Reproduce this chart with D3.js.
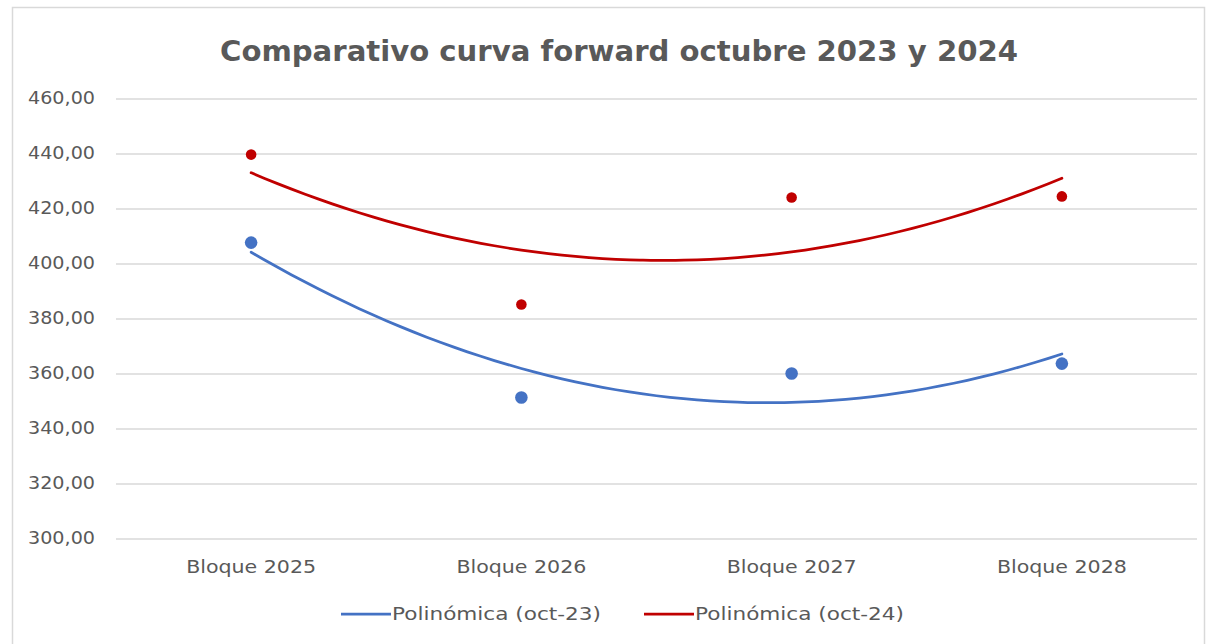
<!DOCTYPE html>
<html><head><meta charset="utf-8">
<script src="https://cdn.jsdelivr.net/npm/d3@7"></script>
<style>
html,body{margin:0;padding:0;background:#fff;}
svg{display:block;}
text{font-family:"DejaVu Sans",sans-serif;}
</style></head>
<body>
<svg id="c" width="1211" height="644"></svg>
<script>
const categories = ["Bloque 2025","Bloque 2026","Bloque 2027","Bloque 2028"];
const oct23 = [407.6, 351.3, 360.0, 363.6];
const oct24 = [439.6, 385.1, 424.0, 424.4];
const yTicks = [300,320,340,360,380,400,420,440,460];
const seriesNames = ["Polinómica (oct-23)","Polinómica (oct-24)"];
const colors = ["#4472C4","#C00000"];
const title = "Comparativo curva forward octubre 2023 y 2024";

const svg = d3.select("#c");
svg.append("rect").attr("x",12.5).attr("y",7.5).attr("width",1192).attr("height",640)
  .attr("fill","#fff").attr("stroke","#d9d9d9").attr("stroke-width",1.5);

const x0 = 116, x1 = 1197, yTop = 98.5, yBot = 538.5;
const x = d3.scaleBand().domain(categories).range([x0,x1]);
const y = d3.scaleLinear().domain([300,460]).range([yBot,yTop]);

svg.append("text").attr("x",619).attr("y",61).attr("text-anchor","middle")
  .attr("font-size",29).attr("font-weight","bold").attr("fill","#595959")
  .attr("textLength",798).attr("lengthAdjust","spacingAndGlyphs").text(title);

// grid
const yAxis = d3.axisLeft(y).tickValues(yTicks).tickSize(-(x1-x0)).tickPadding(21)
  .tickFormat(d => d3.format(".2f")(d).replace(".",","));
const gy = svg.append("g").attr("transform",`translate(${x0},0)`).call(yAxis);
gy.select(".domain").remove();
gy.selectAll(".tick line").attr("stroke","#d9d9d9").attr("stroke-width",1.5);
gy.selectAll(".tick text").attr("font-size",17).attr("fill","#595959")
  .attr("textLength",67).attr("lengthAdjust","spacingAndGlyphs");

const xAxis = d3.axisBottom(x).tickSize(0).tickPadding(22);
const gx = svg.append("g").attr("transform",`translate(0,${yBot})`).call(xAxis);
gx.select(".domain").remove();
gx.selectAll(".tick text").attr("font-size",17).attr("fill","#595959")
  .attr("textLength",130).attr("lengthAdjust","spacingAndGlyphs");

// quadratic least squares fit (polynomial trendline, order 2)
function quadFit(vals){
  const xs = vals.map((_,i)=>i+1);
  let S=[0,0,0,0,0], T=[0,0,0];
  xs.forEach((xi,i)=>{ for(let k=0;k<5;k++) S[k]+=Math.pow(xi,k); for(let k=0;k<3;k++) T[k]+=vals[i]*Math.pow(xi,k); });
  const A=[[S[0],S[1],S[2],T[0]],[S[1],S[2],S[3],T[1]],[S[2],S[3],S[4],T[2]]];
  for(let i=0;i<3;i++){ for(let j=i+1;j<3;j++){ const f=A[j][i]/A[i][i]; for(let k=i;k<4;k++) A[j][k]-=f*A[i][k]; } }
  const c=[0,0,0];
  for(let i=2;i>=0;i--){ let s=A[i][3]; for(let k=i+1;k<3;k++) s-=A[i][k]*c[k]; c[i]=s/A[i][i]; }
  return t => c[0]+c[1]*t+c[2]*t*t;
}
const xPos = t => x(categories[0]) + x.bandwidth()/2 + (t-1)*x.step();

[oct23, oct24].forEach((vals,si)=>{
  const f = quadFit(vals);
  const pts = d3.range(1,4.0001,0.05).map(t=>[xPos(t), y(f(t))]);
  svg.append("path").attr("d", d3.line().curve(d3.curveMonotoneX)(pts))
    .attr("fill","none").attr("stroke",colors[si]).attr("stroke-width",2.75).attr("stroke-linecap","round");
});
[oct23, oct24].forEach((vals,si)=>{
  svg.selectAll(null).data(vals).enter().append("circle")
    .attr("cx",(d,i)=>x(categories[i])+x.bandwidth()/2).attr("cy",d=>y(d))
    .attr("r", si===0?6.3:5.3).attr("fill",colors[si]);
});

// legend
const leg = [{x:341, tx:391},{x:644, tx:694}];
seriesNames.forEach((name,i)=>{
  svg.append("line").attr("x1",leg[i].x).attr("x2",leg[i].x+50).attr("y1",614).attr("y2",614)
    .attr("stroke",colors[i]).attr("stroke-width",2.75);
  svg.append("text").attr("x",leg[i].tx+1).attr("y",620).attr("font-size",17).attr("fill","#595959")
    .attr("textLength",209).attr("lengthAdjust","spacingAndGlyphs").text(name);
});
</script>
</body></html>
